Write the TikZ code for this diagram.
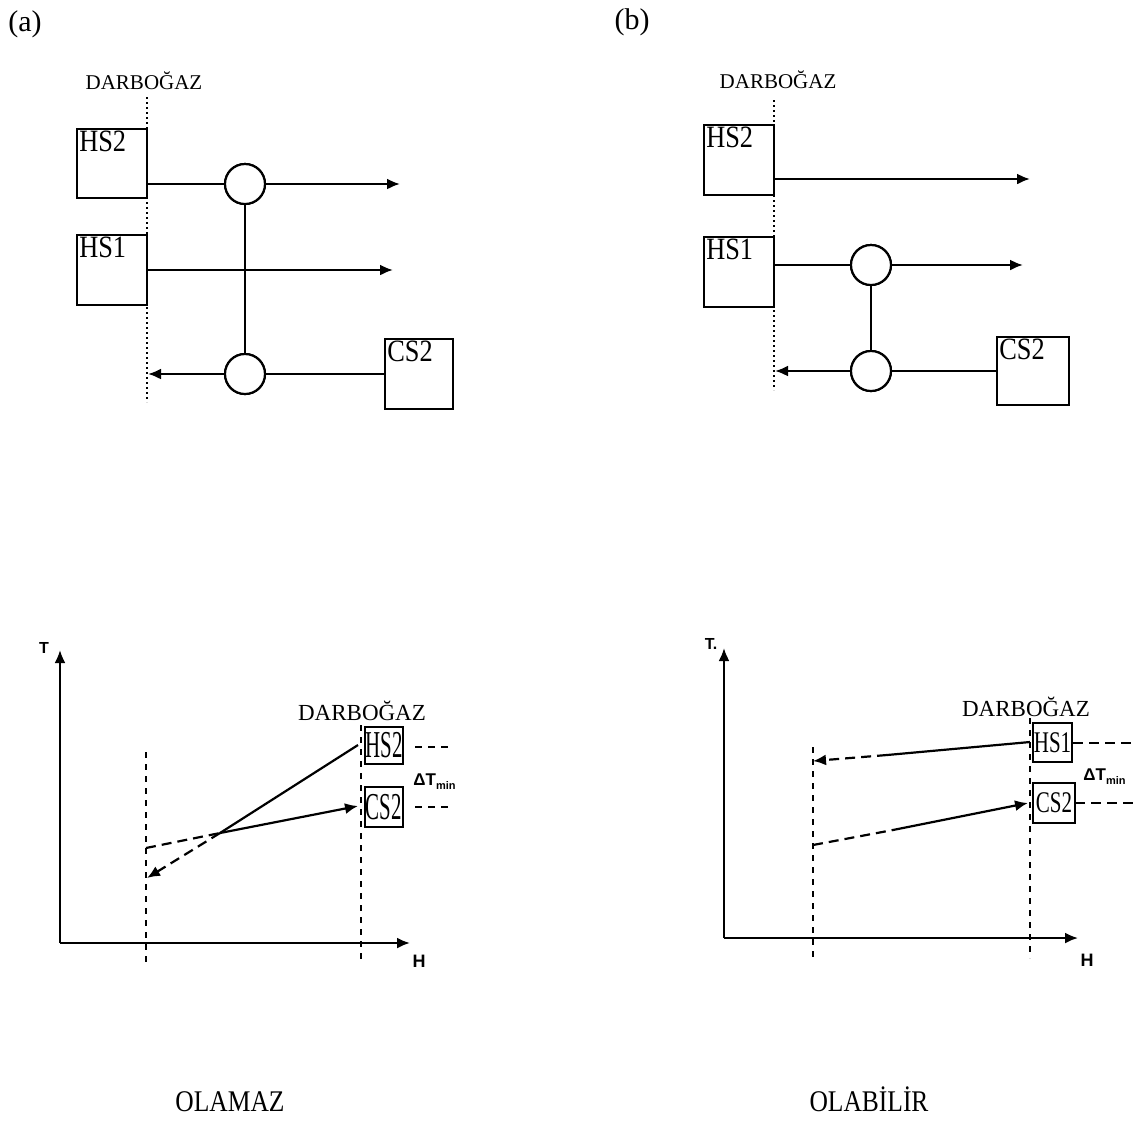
\documentclass[tikz,border=0pt]{standalone}
\usepackage{fontspec}
\setmainfont{Liberation Serif}
\setsansfont{Liberation Sans}
\newfontfamily\condfont{Liberation Serif}[FakeStretch=0.85]
\usepackage{graphicx}
\usetikzlibrary{arrows.meta}
\newcommand{\sqz}[3]{{\fontsize{#1}{#1}\selectfont\scalebox{#2}[1]{#3}}}
\begin{document}
\begin{tikzpicture}[x=0.5pt,y=-0.5pt,
  ln/.style={line width=1.1pt},
  tip/.style={-{Latex[length=6.5pt,width=5.5pt]}},
  arr/.style={ln,tip},
  dsh/.style={ln,dash pattern=on 5pt off 3pt},
  dashv/.style={line width=1pt,dash pattern=on 3pt off 3pt},
  dotv/.style={line width=0.9pt,dash pattern=on 0.9pt off 1.6pt},
  bigbox/.style={draw,line width=1.1pt,fill=white,minimum width=35pt,minimum height=35pt,inner sep=0pt},
  boxlbl/.style={anchor=north west,inner sep=1.5pt,font=\condfont\fontsize{15.5}{15.5}\selectfont},
  smallbox/.style={draw,line width=1pt,fill=white,minimum width=19pt,minimum height=19pt,inner sep=0pt},
  circ/.style={draw,line width=1.1pt,fill=white,circle,minimum size=20pt,inner sep=0pt},
  dg/.style={font=\fontsize{10.5}{11}\selectfont},
  dgb/.style={font=\fontsize{11.5}{12}\selectfont},
  panel/.style={font=\fontsize{15}{16}\selectfont},
  verdict/.style={font=\condfont\fontsize{15}{16}\selectfont, anchor=base},
  axlbl/.style={font=\sffamily\bfseries\fontsize{9}{10}\selectfont},
  tlbl/.style={font=\sffamily\bfseries\fontsize{8}{9}\selectfont},
  dtl/.style={font=\sffamily\bfseries\fontsize{8.5}{9}\selectfont, inner sep=0pt}
]
\path[use as bounding box] (0,0) rectangle (1139,1120);

% panel labels
\node[panel] (la) at (25,24) {(a)};
\node[panel] (lb) at (632,22) {(b)};

% ================= top (a) =================
\coordinate (aDt) at (147,97);
\coordinate (aDb) at (147,402);
\draw[dotv] (aDt) -- (aDb);
\node[dg] (aDG) at (144,81) {DARBOĞAZ};

\node[bigbox, minimum height=34.5pt, label={[boxlbl]north west:HS2}] (aHS2) at (112,163.5) {};
\node[bigbox, label={[boxlbl]north west:HS1}] (aHS1) at (112,270) {};
\node[bigbox, minimum width=34pt, label={[boxlbl]north west:CS2}] (aCS2) at (419,374) {};

\node[circ] (aC1) at (245,184) {};
\node[circ] (aC2) at (245,374) {};
\coordinate (aE1) at (400,184);
\coordinate (aE2) at (393,270);
\coordinate (aL) at (148,374);

\draw[ln] (aC1) -- (aC2);
\draw[ln] (aHS2.east |- aC1) -- (aC1);
\draw[arr] (aC1) -- (aE1);
\draw[arr] (aHS1.east) -- (aE2);
\draw[ln] (aCS2.west) -- (aC2);
\draw[arr] (aC2) -- (aL);
\node[circ] at (aC1) {};
\node[circ] at (aC2) {};

% ================= top (b) =================
\coordinate (bDt) at (774,100);
\coordinate (bDb) at (774,390);
\draw[dotv] (bDt) -- (bDb);
\node[dg] (bDG) at (778,80) {DARBOĞAZ};

\node[bigbox, label={[boxlbl]north west:HS2}] (bHS2) at (739,160) {};
\node[bigbox, label={[boxlbl]north west:HS1}] (bHS1) at (739,272) {};
\node[bigbox, minimum width=36pt, minimum height=34pt, label={[boxlbl]north west:CS2}] (bCS2) at (1033,371) {};

\node[circ] (bC1) at (871,265) {};
\node[circ] (bC2) at (871,371) {};
\coordinate (bE1) at (1030,179);
\coordinate (bE2) at (1023,265);
\coordinate (bL) at (775,371);

\draw[arr] (bHS2.east |- bE1) -- (bE1);
\draw[ln] (bC1) -- (bC2);
\draw[ln] (bHS1.east |- bC1) -- (bC1);
\draw[arr] (bC1) -- (bE2);
\draw[ln] (bCS2.west) -- (bC2);
\draw[arr] (bC2) -- (bL);
\node[circ] at (bC1) {};
\node[circ] at (bC2) {};

% ================= bottom (a) =================
\coordinate (aO) at (60,943);
\coordinate (aTt) at (60,650);
\coordinate (aHt) at (410,943);
\draw[arr] (aO) -- (aTt);
\draw[arr] (aO) -- (aHt);
\node[tlbl] (aT) at (44,648) {T};
\node[axlbl] (aH) at (419,961) {H};

\coordinate (aV1t) at (146,752);
\coordinate (aV1b) at (146,965);
\coordinate (aV2t) at (361,725);
\coordinate (aV2b) at (361,963);
\draw[dashv] (aV1t) -- (aV1b);
\draw[dashv] (aV2t) -- (aV2b);
\node[dgb] (aDG2) at (362,711) {DARBOĞAZ};

\node[smallbox, minimum height=18.5pt] (aHSb) at (384,745.5) {\sqz{19}{0.55}{HS2}};
\node[smallbox, minimum height=20pt] (aCSb) at (384,807) {\sqz{19}{0.55}{CS2}};

\coordinate (aX) at (220,833);
\coordinate (aS1) at (358,745);
\coordinate (aP1) at (147,878);
\coordinate (aQ0) at (146,848);
\coordinate (aS2) at (358,806);
\draw[ln] (aS1) -- (aX);
\draw[dsh,tip] (aX) -- (aP1);
\draw[dsh] (aQ0) -- (aX);
\draw[arr] (aX) -- (aS2);

\coordinate (aR1a) at (415,747);
\coordinate (aR1b) at (450,747);
\coordinate (aR2a) at (415,807);
\coordinate (aR2b) at (450,807);
\draw[line width=1pt,dash pattern=on 3.5pt off 3pt] (aR1a) -- (aR1b);
\draw[line width=1pt,dash pattern=on 3.5pt off 3pt] (aR2a) -- (aR2b);
\node[dtl, anchor=west] (aDT) at (413,782) {ΔT\raisebox{-2pt}{\fontsize{5.5}{6}\selectfont min}};

% ================= bottom (b) =================
\coordinate (bO) at (724,938);
\coordinate (bTt) at (724,648);
\coordinate (bHt) at (1078,938);
\draw[arr] (bO) -- (bTt);
\draw[arr] (bO) -- (bHt);
\node[tlbl] (bT) at (711,644) {T.};
\node[axlbl] (bH) at (1087,960) {H};

\coordinate (bV1t) at (813,747);
\coordinate (bV1b) at (813,960);
\coordinate (bV2t) at (1030,718);
\coordinate (bV2b) at (1030,958);
\draw[dashv] (bV1t) -- (bV1b);
\draw[dashv] (bV2t) -- (bV2b);
\node[dgb] (bDG2) at (1026,707) {DARBOĞAZ};

\node[smallbox, minimum width=19.5pt, minimum height=19.5pt] (bHSb) at (1052.5,742.5) {\sqz{15}{0.7}{HS1}};
\node[smallbox, minimum width=21pt, minimum height=20pt] (bCSb) at (1054,803) {\sqz{15}{0.7}{CS2}};

\coordinate (bS1) at (1030,742);
\coordinate (bX1) at (887,755);
\coordinate (bP1) at (813,761);
\coordinate (bQ0) at (813,845);
\coordinate (bX2) at (893,830);
\coordinate (bS2) at (1028,803);
\draw[ln] (bS1) -- (bX1);
\draw[dsh,tip] (bX1) -- (bP1);
\draw[dsh] (bQ0) -- (bX2);
\draw[arr] (bX2) -- (bS2);

\coordinate (bR1a) at (1073,743);
\coordinate (bR1b) at (1135,743);
\coordinate (bR2a) at (1075,803);
\coordinate (bR2b) at (1135,803);
\draw[line width=1pt,dash pattern=on 5pt off 3pt] (bR1a) -- (bR1b);
\draw[line width=1pt,dash pattern=on 5pt off 3pt] (bR2a) -- (bR2b);
\node[dtl, anchor=west] (bDT) at (1083,777) {ΔT\raisebox{-2pt}{\fontsize{5.5}{6}\selectfont min}};

% verdicts
\node[verdict] (vA) at (230,1111) {OLAMAZ};
\node[verdict] (vB) at (869,1111) {OLABİLİR};
\end{tikzpicture}
\end{document}
